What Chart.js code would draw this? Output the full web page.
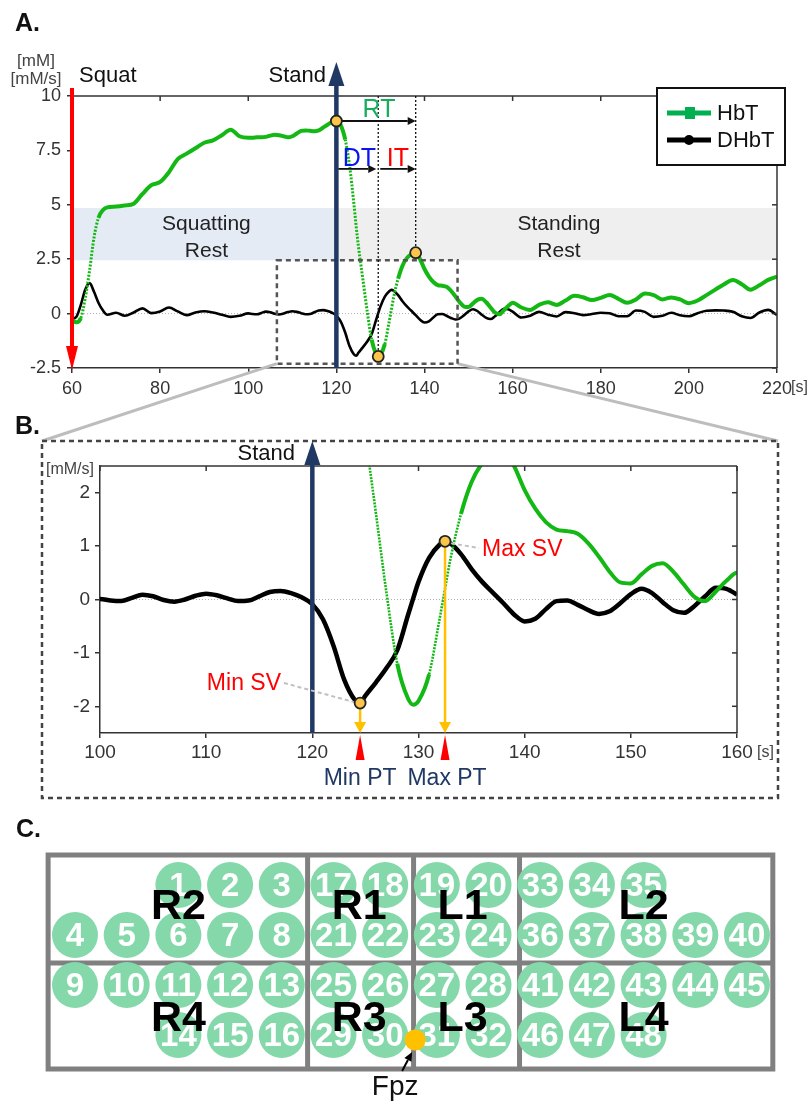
<!DOCTYPE html>
<html>
<head>
<meta charset="utf-8">
<script src="https://cdn.jsdelivr.net/npm/chart.js@4.4.1/dist/chart.umd.min.js"></script>
<style>
body { margin: 0; background: #fff; }
#wrap { position: relative; width: 809px; height: 1107px; font-family: "Liberation Sans", Arial, sans-serif; overflow: hidden; }
canvas { position: absolute; left: 0; }
.plabel { position: absolute; font-weight: bold; font-size: 25px; line-height: 1; color: #111; }
</style>
</head>
<body>
<div id="wrap">
<canvas id="chartA" width="809" height="450" style="top:0"></canvas>
<canvas id="chartB" width="809" height="420" style="top:400px"></canvas>
<canvas id="chartC" width="809" height="297" style="top:810px"></canvas>
<div class="plabel" style="left:15px;top:10px">A.</div>
<div class="plabel" style="left:15px;top:413px">B.</div>
<div class="plabel" style="left:16px;top:816px">C.</div>
</div>
<script>
// time [s]
const times = [60, 61, 62, 63, 64, 65, 66, 67, 68,
  70, 72, 74, 76, 78, 80, 82, 84, 86, 88, 90, 92, 94, 96, 98,
  100, 101, 102, 103, 104, 105, 106, 107, 108, 109, 110, 111, 112, 113, 114, 115, 116, 117, 118, 119,
  120, 121, 122, 123, 124, 124.5, 125, 126, 127, 128, 129, 129.5, 130, 131, 132, 132.5, 133, 134, 135, 136, 137, 138, 139,
  140, 141, 142, 143, 144, 145, 146, 147, 148, 149, 150, 151, 152, 153, 154, 155, 156, 157, 158, 159, 160,
  162, 164, 166, 168, 170, 172, 174, 176, 178, 180, 182, 184, 186, 188, 190, 192, 194, 196, 198, 200,
  202, 204, 206, 208, 210, 212, 214, 216, 218, 220]

// HbT [mM]
const hbt = [-0.3, -0.4, -0.2, 0.7, 2.0, 3.5, 4.4, 4.75, 4.88,
  4.92, 4.97, 5.05, 5.5, 5.9, 6.05, 6.5, 7.1, 7.35, 7.6, 7.85, 7.96, 8.2, 8.45, 8.15,
  8.08, 8.08, 8.1, 8.1, 8.12, 8.18, 8.22, 8.2, 8.15, 8.1, 8.15, 8.28, 8.4, 8.42, 8.4, 8.38, 8.42, 8.55, 8.68, 8.8,
  8.85, 8.65, 8.0, 6.8, 5.0, 4.0, 3.1, 1.6, 0.1, -1.2, -1.85, -1.97, -1.9, -1.4, -0.35, 0.2, 0.75, 1.6, 2.2, 2.55, 2.72, 2.8, 2.5,
  2.05, 1.7, 1.45, 1.31, 1.28, 1.23, 1.05, 0.8, 0.52, 0.32, 0.3, 0.47, 0.63, 0.68, 0.52, 0.28, 0.05, -0.03, 0.15, 0.35, 0.5,
  0.28, 0.17, 0.4, 0.52, 0.4, 0.6, 0.82, 0.75, 0.62, 0.72, 0.85, 0.68, 0.5, 0.65, 0.92, 0.85, 0.65, 0.74, 0.65, 0.48,
  0.6, 0.85, 1.1, 1.35, 1.54, 1.35, 1.1, 1.3, 1.55, 1.7]

// DHbT [mM/s]
const dhbt = [-0.25, -0.15, 0.4, 1.1, 1.4, 1.0, 0.5, 0.15, -0.05,
  0.04, -0.1, 0.05, 0.24, 0.02, 0.1, 0.28, 0.1, -0.07, 0.05, 0.11, 0.05, -0.05, -0.15, -0.1,
  0.01, -0.02, -0.03, 0.03, 0.09, 0.06, -0.01, -0.04, 0.0, 0.07, 0.11, 0.08, 0.02, -0.03, -0.02, 0.06, 0.14, 0.16, 0.12, 0.04,
  -0.09, -0.37, -0.87, -1.5, -1.88, -1.94, -1.8, -1.55, -1.28, -0.95, -0.3, 0.02, 0.33, 0.78, 1.03, 1.09, 1.05, 0.85, 0.57, 0.33, 0.13, -0.07, -0.28,
  -0.41, -0.36, -0.18, -0.03, -0.02, -0.1, -0.2, -0.27, -0.22, -0.07, 0.1, 0.2, 0.12, -0.05, -0.2, -0.25, -0.12, 0.06, 0.22, 0.2, 0.09,
  -0.18, -0.1, 0.08, -0.05, -0.13, 0.07, 0.02, -0.07, -0.02, 0.04, 0.02, -0.12, -0.12, 0.14, 0.08, -0.15, -0.1, 0.04, -0.08, -0.12,
  0.02, 0.13, 0.15, 0.14, 0.08, -0.12, -0.2, 0.05, 0.17, -0.07]

const xTicksA = [60, 80, 100, 120, 140, 160, 180, 200, 220]
const yTicksA = [-2.5, 0, 2.5, 5, 7.5, 10]
const xTicksB = [100, 110, 120, 130, 140, 150, 160]
const yTicksB = [-2, -1, 0, 1, 2]

// channel layout: number, column, row
const chNum = [1, 2, 3, 4, 5, 6, 7, 8, 9, 10, 11, 12, 13, 14, 15, 16,
  17, 18, 19, 20, 21, 22, 23, 24, 25, 26, 27, 28, 29, 30, 31, 32,
  33, 34, 35, 36, 37, 38, 39, 40, 41, 42, 43, 44, 45, 46, 47, 48]
const chCol = [2, 3, 4, 0, 1, 2, 3, 4, 0, 1, 2, 3, 4, 2, 3, 4,
  5, 6, 7, 8, 5, 6, 7, 8, 5, 6, 7, 8, 5, 6, 7, 8,
  9, 10, 11, 9, 10, 11, 12, 13, 9, 10, 11, 12, 13, 9, 10, 11]
const chRow = [0, 0, 0, 1, 1, 1, 1, 1, 2, 2, 2, 2, 2, 3, 3, 3,
  0, 0, 0, 0, 1, 1, 1, 1, 2, 2, 2, 2, 3, 3, 3, 3,
  0, 0, 0, 1, 1, 1, 1, 1, 2, 2, 2, 2, 2, 3, 3, 3]
const regions = ["R2", "R1", "L1", "L2", "R4", "R3", "L3", "L4"]
const regionCol = [2, 5.5, 7.5, 11, 2, 5.5, 7.5, 11]
const regionRow = [0.4, 0.4, 0.4, 0.4, 2.64, 2.64, 2.64, 2.64]
const fpz = { x: 6.58, y: 3.1 }

const FAM = '"Liberation Sans", Arial, sans-serif'
const green = "#14b814"
const navy = "#1f3864"

function font(size, bold) {
    return (bold ? "bold " : "") + size + "px " + FAM
}

function txt(ctx, s, x, y, size, color, align, base, bold) {
    ctx.font = font(size, bold)
    ctx.fillStyle = color
    ctx.textAlign = align || "center"
    ctx.textBaseline = base || "alphabetic"
    ctx.fillText(s, x, y)
}

function arrow(ctx, x0, y0, x1, y1, color, lw, headLen, headHalf) {
    const ang = Math.atan2(y1 - y0, x1 - x0)
    const bx = x1 - headLen * Math.cos(ang)
    const by = y1 - headLen * Math.sin(ang)
    ctx.setLineDash([])
    ctx.strokeStyle = color
    ctx.lineWidth = lw
    ctx.beginPath()
    ctx.moveTo(x0, y0)
    ctx.lineTo(bx, by)
    ctx.stroke()
    ctx.fillStyle = color
    ctx.beginPath()
    ctx.moveTo(x1, y1)
    ctx.lineTo(bx + headHalf * Math.sin(ang), by - headHalf * Math.cos(ang))
    ctx.lineTo(bx - headHalf * Math.sin(ang), by + headHalf * Math.cos(ang))
    ctx.closePath()
    ctx.fill()
}

function dot(ctx, x, y) {
    ctx.setLineDash([])
    ctx.beginPath()
    ctx.arc(x, y, 5.5, 0, Math.PI * 2)
    ctx.fillStyle = "#fbc54c"
    ctx.fill()
    ctx.lineWidth = 1.8
    ctx.strokeStyle = "#222"
    ctx.stroke()
}

function line(ctx, x0, y0, x1, y1, color, lw, dash) {
    ctx.setLineDash(dash || [])
    ctx.strokeStyle = color
    ctx.lineWidth = lw
    ctx.beginPath()
    ctx.moveTo(x0, y0)
    ctx.lineTo(x1, y1)
    ctx.stroke()
    ctx.setLineDash([])
}

// top + right frame with inward ticks
function frame(chart, xt, yt) {
    const { ctx, chartArea: a, scales: { x, y } } = chart
    line(ctx, a.left, a.top, a.right, a.top, "#333", 1.5)
    line(ctx, a.right, a.top, a.right, a.bottom, "#333", 1.5)
    for (const v of xt) {
        const px = x.getPixelForValue(v)
        line(ctx, px, a.top, px, a.top + 5, "#333", 1.5)
    }
    for (const v of yt) {
        const py = y.getPixelForValue(v)
        line(ctx, a.right, py, a.right - 5, py, "#333", 1.5)
    }
}

function extremum(vals, t0, t1, useMax) {
    let best = -1
    for (let i = 0; i < times.length; i++) {
        if (times[i] < t0 || times[i] > t1) continue
        if (best < 0 || (useMax ? vals[i] > vals[best] : vals[i] < vals[best])) best = i
    }
    return best
}

function steep(c, th) {
    const s = (c.p1.parsed.y - c.p0.parsed.y) / (c.p1.parsed.x - c.p0.parsed.x)
    return Math.abs(s) > th
}

const hbtPts = times.map((t, i) => ({ x: t, y: hbt[i] }))
const dhbtPts = times.map((t, i) => ({ x: t, y: dhbt[i] }))

const annoA = {
    id: "annoA",
    beforeDatasetsDraw(chart) {
        const { ctx, chartArea: a, scales: { x, y } } = chart
        ctx.save()
        const top = y.getPixelForValue(4.85), bot = y.getPixelForValue(2.45)
        ctx.fillStyle = "#e4ebf5"
        ctx.fillRect(x.getPixelForValue(60), top, x.getPixelForValue(120) - x.getPixelForValue(60), bot - top)
        ctx.fillStyle = "#efefef"
        ctx.fillRect(x.getPixelForValue(120), top, x.getPixelForValue(220) - x.getPixelForValue(120), bot - top)
        txt(ctx, "Squatting", x.getPixelForValue(90.5), 230, 21, "#222")
        txt(ctx, "Rest", x.getPixelForValue(90.5), 257, 21, "#222")
        txt(ctx, "Standing", x.getPixelForValue(170.5), 230, 21, "#222")
        txt(ctx, "Rest", x.getPixelForValue(170.5), 257, 21, "#222")
        const y0 = y.getPixelForValue(0)
        line(ctx, a.left, y0, a.right, y0, "#b0b0b0", 1, [1, 2])
        ctx.restore()
    },
    afterDatasetsDraw(chart) {
        const { ctx, chartArea: a, scales: { x, y } } = chart
        ctx.save()
        frame(chart, xTicksA, yTicksA)

        // zoom box and links to panel B
        const bx0 = x.getPixelForValue(106.5), bx1 = x.getPixelForValue(147.5)
        const by0 = y.getPixelForValue(2.45), by1 = y.getPixelForValue(-2.3)
        line(ctx, bx1, by1, 778, 441, "#bdbdbd", 3)
        line(ctx, bx0, by1, 42, 441, "#bdbdbd", 3)
        ctx.setLineDash([5, 4])
        ctx.strokeStyle = "#555"
        ctx.lineWidth = 2.5
        ctx.strokeRect(bx0, by0, bx1 - bx0, by1 - by0)
        ctx.setLineDash([])

        const i1 = extremum(hbt, 110, 122, true)
        const i2 = extremum(hbt, 122, 135, false)
        const i3 = extremum(hbt, 133, 145, true)
        const x1 = x.getPixelForValue(times[i1]), y1 = y.getPixelForValue(hbt[i1])
        const x2 = x.getPixelForValue(times[i2]), y2 = y.getPixelForValue(hbt[i2])
        const x3 = x.getPixelForValue(times[i3]), y3 = y.getPixelForValue(hbt[i3])

        line(ctx, x2, a.top, x2, y2, "#111", 1.3, [2, 2])
        line(ctx, x3, a.top, x3, y3, "#111", 1.3, [2, 2])

        // squat / stand arrows
        const xs = x.getPixelForValue(60), xst = x.getPixelForValue(120)
        arrow(ctx, xs, a.top - 8, xs, a.bottom + 2, "#ff0000", 4, 24, 6)
        arrow(ctx, xst, a.bottom, xst, 62, navy, 4.5, 24, 8)
        txt(ctx, "Squat", 79, 82, 22, "#111", "left")
        txt(ctx, "Stand", 326, 82, 22, "#111", "right")

        // RT / DT / IT
        arrow(ctx, x1, y1, x3, y1, "#111", 1.8, 8, 4)
        txt(ctx, "RT", (x1 + x3) / 2 + 3, y1 - 4, 25, "#16ae5c")
        const ya = y.getPixelForValue(6.65)
        arrow(ctx, xst + 2, ya, x2 - 2, ya, "#111", 1.8, 8, 4)
        arrow(ctx, x2 + 2, ya, x3, ya, "#111", 1.8, 8, 4)
        txt(ctx, "DT", (xst + x2) / 2 + 2, ya - 3, 25, "#0a14f0")
        txt(ctx, "IT", (x2 + x3) / 2 + 1, ya - 3, 25, "#ff0000")

        dot(ctx, x1, y1)
        dot(ctx, x2, y2)
        dot(ctx, x3, y3)

        // legend
        ctx.fillStyle = "#fff"
        ctx.fillRect(657, 88, 128, 77)
        ctx.strokeStyle = "#111"
        ctx.lineWidth = 2
        ctx.strokeRect(657, 88, 128, 77)
        line(ctx, 667, 113, 711, 113, "#00b050", 5)
        ctx.fillStyle = "#00b050"
        ctx.fillRect(685, 107, 10, 12)
        txt(ctx, "HbT", 717, 114, 22, "#111", "left", "middle")
        line(ctx, 667, 140, 711, 140, "#000", 5)
        ctx.beginPath()
        ctx.arc(689, 140, 5, 0, Math.PI * 2)
        ctx.fillStyle = "#000"
        ctx.fill()
        txt(ctx, "DHbT", 717, 141, 22, "#111", "left", "middle")

        // units
        txt(ctx, "[mM]", 36, 66, 17, "#444")
        txt(ctx, "[mM/s]", 36, 84, 17, "#444")
        txt(ctx, "[s]", a.right + 14, a.bottom + 20, 16, "#444", "left", "middle")
        ctx.restore()
    }
}

const annoB = {
    id: "annoB",
    beforeDatasetsDraw(chart) {
        const { ctx, chartArea: a, scales: { y } } = chart
        const y0 = y.getPixelForValue(0)
        ctx.save()
        line(ctx, a.left, y0, a.right, y0, "#b0b0b0", 1, [1, 2])
        ctx.restore()
    },
    afterDatasetsDraw(chart) {
        const { ctx, chartArea: a, scales: { x, y } } = chart
        ctx.save()
        frame(chart, xTicksB, yTicksB)

        ctx.setLineDash([5, 4])
        ctx.strokeStyle = "#444"
        ctx.lineWidth = 2.5
        ctx.strokeRect(42, 41, 736, 357)
        ctx.setLineDash([])

        const xst = x.getPixelForValue(120)
        arrow(ctx, xst, a.bottom, xst, 41, navy, 4.5, 24, 8)
        txt(ctx, "Stand", 295, 60, 22, "#111", "right")

        const iMin = extremum(dhbt, 120, 130, false)
        const iMax = extremum(dhbt, 128, 136, true)
        const pts = [iMin, iMax].map(i => ({ x: x.getPixelForValue(times[i]), y: y.getPixelForValue(dhbt[i]) }))
        for (const p of pts) {
            arrow(ctx, p.x, p.y + 5, p.x, a.bottom, "#ffc000", 2.5, 11, 6)
            ctx.fillStyle = "#ff0000"
            ctx.beginPath()
            ctx.moveTo(p.x, a.bottom + 2)
            ctx.lineTo(p.x + 4.5, a.bottom + 27)
            ctx.lineTo(p.x - 4.5, a.bottom + 27)
            ctx.closePath()
            ctx.fill()
        }
        line(ctx, 284, 283, pts[0].x - 6, pts[0].y - 1, "#c0c0c0", 2, [4, 3])
        line(ctx, pts[1].x + 6, pts[1].y + 2, 479, 148, "#c0c0c0", 2, [4, 3])
        txt(ctx, "Min SV", 281, 284, 23, "#ff0000", "right", "middle")
        txt(ctx, "Max SV", 482, 150, 23, "#ff0000", "left", "middle")
        txt(ctx, "Min PT", pts[0].x, 385, 23, navy)
        txt(ctx, "Max PT", pts[1].x + 2, 385, 23, navy)
        for (const p of pts) dot(ctx, p.x, p.y)

        txt(ctx, "[mM/s]", 70, 70, 16, "#444", "center", "middle")
        txt(ctx, "[s]", a.right + 20, a.bottom + 20, 16, "#444", "left", "middle")
        ctx.restore()
    }
}

const annoC = {
    id: "annoC",
    beforeDatasetsDraw(chart) {
        const { ctx, scales: { x, y } } = chart
        ctx.save()
        ctx.strokeStyle = "#808080"
        ctx.lineWidth = 5
        const L = x.getPixelForValue(-0.52), R = x.getPixelForValue(13.5)
        const T = y.getPixelForValue(-0.6), M = y.getPixelForValue(1.56), B = y.getPixelForValue(3.68)
        ctx.strokeRect(L, T, R - L, B - T)
        line(ctx, L, M, R, M, "#808080", 5)
        for (const c of [4.5, 6.55, 8.6]) {
            const px = x.getPixelForValue(c)
            line(ctx, px, T, px, B, "#808080", 5)
        }
        ctx.restore()
    },
    afterDatasetsDraw(chart) {
        const { ctx, scales: { x, y } } = chart
        ctx.save()
        for (let i = 0; i < chNum.length; i++) {
            txt(ctx, String(chNum[i]), x.getPixelForValue(chCol[i]), y.getPixelForValue(chRow[i]) + 2, 33, "#fff", "center", "middle", true)
        }
        for (let i = 0; i < regions.length; i++) {
            txt(ctx, regions[i], x.getPixelForValue(regionCol[i]), y.getPixelForValue(regionRow[i]) + 2, 43, "#000", "center", "middle", true)
        }
        const fx = x.getPixelForValue(fpz.x), fy = y.getPixelForValue(fpz.y)
        ctx.beginPath()
        ctx.arc(fx, fy, 10.5, 0, Math.PI * 2)
        ctx.fillStyle = "#ffc000"
        ctx.fill()
        arrow(ctx, fx - 13, fy + 31, fx - 3, fy + 12, "#000", 2, 9, 4)
        txt(ctx, "Fpz", fx - 20, 285, 28, "#111")
        ctx.restore()
    }
}

const tickFont = size => ({ family: FAM, size: size })

new Chart("chartA", {
    type: "line",
    data: {
        datasets: [{
            label: "HbT",
            data: hbtPts,
            borderColor: green,
            borderWidth: 4,
            pointRadius: 0,
            cubicInterpolationMode: "monotone",
            segment: {
                borderDash: c => steep(c, 0.8) ? [2, 1.5] : undefined,
                borderWidth: c => steep(c, 0.8) ? 3 : undefined
            }
        }, {
            label: "DHbT",
            data: dhbtPts,
            borderColor: "#000",
            borderWidth: 2.6,
            pointRadius: 0,
            cubicInterpolationMode: "monotone"
        }]
    },
    options: {
        responsive: false,
        animation: false,
        events: [],
        layout: { padding: { left: 0, right: 32, top: 96, bottom: 52 } },
        plugins: { legend: { display: false }, tooltip: { enabled: false } },
        scales: {
            x: {
                type: "linear", min: 60, max: 220,
                afterBuildTicks: s => { s.ticks = xTicksA.map(v => ({ value: v })) },
                afterFit: s => { s.height = 30 },
                grid: { drawOnChartArea: false, tickLength: 5, color: "#333", lineWidth: 1.5 },
                border: { color: "#333", width: 1.5 },
                ticks: { font: tickFont(18), color: "#333", padding: 5, maxRotation: 0 }
            },
            y: {
                min: -2.5, max: 10,
                afterBuildTicks: s => { s.ticks = yTicksA.map(v => ({ value: v })) },
                afterFit: s => { s.width = 72 },
                grid: { drawOnChartArea: false, tickLength: 5, color: "#333", lineWidth: 1.5 },
                border: { color: "#333", width: 1.5 },
                ticks: { font: tickFont(18), color: "#333", padding: 6 }
            }
        }
    },
    plugins: [annoA]
})

new Chart("chartB", {
    type: "line",
    data: {
        datasets: [{
            label: "HbT",
            data: hbtPts,
            borderColor: green,
            borderWidth: 4,
            pointRadius: 0,
            cubicInterpolationMode: "monotone",
            segment: {
                borderDash: c => steep(c, 0.8) ? [2, 1.2] : undefined,
                borderWidth: c => steep(c, 0.8) ? 2.6 : undefined
            }
        }, {
            label: "DHbT",
            data: dhbtPts,
            borderColor: "#000",
            borderWidth: 4.5,
            pointRadius: 0,
            cubicInterpolationMode: "monotone"
        }]
    },
    options: {
        responsive: false,
        animation: false,
        events: [],
        layout: { padding: { left: 0, right: 72, top: 66, bottom: 57 } },
        plugins: { legend: { display: false }, tooltip: { enabled: false } },
        scales: {
            x: {
                type: "linear", min: 100, max: 160,
                afterBuildTicks: s => { s.ticks = xTicksB.map(v => ({ value: v })) },
                afterFit: s => { s.height = 30 },
                grid: { drawOnChartArea: false, tickLength: 5, color: "#333", lineWidth: 1.5 },
                border: { color: "#333", width: 1.5 },
                ticks: { font: tickFont(19), color: "#333", padding: 3, maxRotation: 0 }
            },
            y: {
                min: -2.5, max: 2.5,
                afterBuildTicks: s => { s.ticks = yTicksB.map(v => ({ value: v })) },
                afterFit: s => { s.width = 100 },
                grid: { drawOnChartArea: false, tickLength: 5, color: "#333", lineWidth: 1.5 },
                border: { color: "#333", width: 1.5 },
                ticks: { font: tickFont(19), color: "#333", padding: 5 }
            }
        }
    },
    plugins: [annoB]
})

new Chart("chartC", {
    type: "scatter",
    data: {
        datasets: [{
            label: "channels",
            data: chNum.map((n, i) => ({ x: chCol[i], y: chRow[i] })),
            pointRadius: 23,
            pointBackgroundColor: "#84d8aa",
            pointBorderWidth: 0,
            borderWidth: 0
        }]
    },
    options: {
        responsive: false,
        animation: false,
        events: [],
        layout: { padding: 0, autoPadding: false },
        plugins: { legend: { display: false }, tooltip: { enabled: false } },
        scales: {
            x: { type: "linear", display: false, min: -1.451, max: 14.2 },
            y: { type: "linear", display: false, reverse: true, min: -1.5, max: 4.44 }
        }
    },
    plugins: [annoC]
})
</script>
</body>
</html>
